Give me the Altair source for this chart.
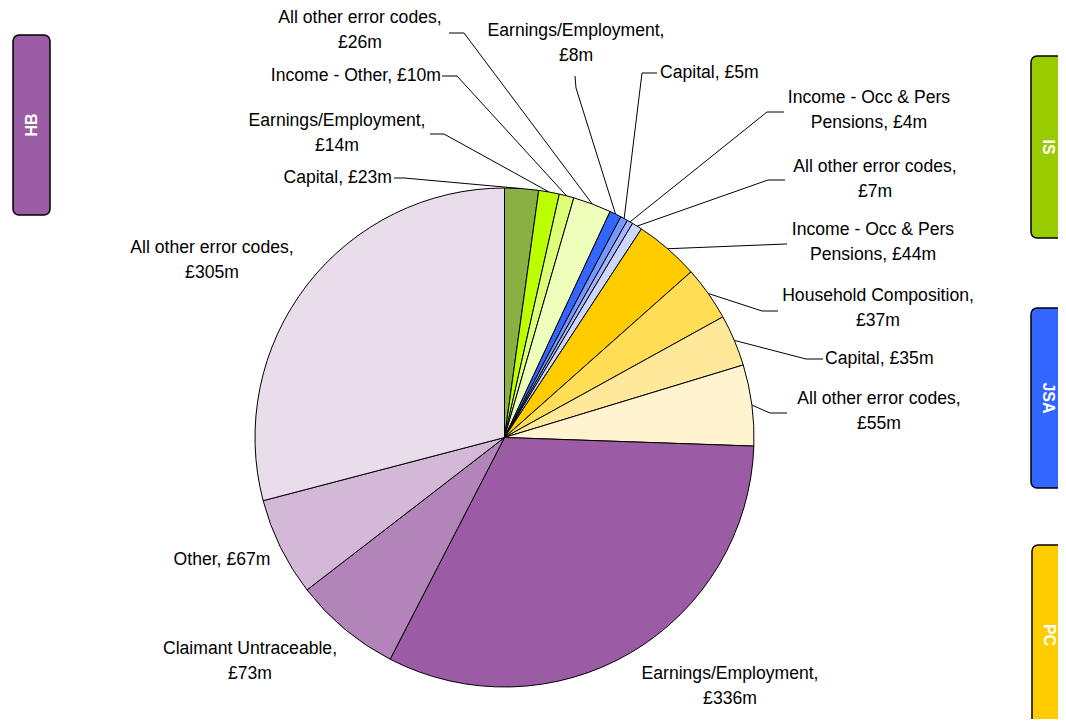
import math
import altair as alt
import pandas as pd

# ---------------- data ----------------
benefits = ["IS", "IS", "IS", "IS",
            "JSA", "JSA", "JSA", "JSA",
            "PC", "PC", "PC", "PC",
            "HB", "HB", "HB", "HB"]
categories = ["Capital", "Earnings/Employment", "Income - Other", "All other error codes",
              "Earnings/Employment", "Capital", "Income - Occ & Pers Pensions", "All other error codes",
              "Income - Occ & Pers Pensions", "Household Composition", "Capital", "All other error codes",
              "Earnings/Employment", "Claimant Untraceable", "Other", "All other error codes"]
values = [23, 14, 10, 26,
          8, 5, 4, 7,
          44, 37, 35, 55,
          336, 73, 67, 305]
label_texts = ["Capital, £23m", "Earnings/Employment,\n£14m", "Income - Other, £10m",
               "All other error codes,\n£26m",
               "Earnings/Employment,\n£8m", "Capital, £5m", "Income - Occ & Pers\nPensions, £4m",
               "All other error codes,\n£7m",
               "Income - Occ & Pers\nPensions, £44m", "Household Composition,\n£37m",
               "Capital, £35m", "All other error codes,\n£55m",
               "Earnings/Employment,\n£336m", "Claimant Untraceable,\n£73m", "Other, £67m",
               "All other error codes,\n£305m"]
box_names = ["HB", "IS", "JSA", "PC"]

# ---------------- styles ----------------
slice_colors = ["#8AB043", "#BBFF00", "#DDFF77", "#EEFFBB",
                "#3366FF", "#7799FF", "#A5B8FF", "#CCD8FF",
                "#FFCC00", "#FFDD55", "#FFE899", "#FFF4CF",
                "#9B5BA5", "#B384BA", "#D4B8D8", "#E9DDEC"]
box_colors = ["#9B5BA5", "#99CC00", "#3366FF", "#FFCC00"]

# ---------------- layout (page pixel coords) ----------------
OFF = 8
W, H = 1050, 711
CX, CY, R = 504.5 - OFF, 437.5 - OFF, 249.5

# label anchor (first line centre): (x, y, align, leader_start, elbow); leader: start -> elbow -> slice edge
label_layout = [
    (392, 178, "right", (394, 178), (404, 178)),
    (337, 121, "center", (430, 134), (444, 134)),
    (441, 76, "right", (442, 76), (457, 76)),
    (360, 18, "center", (449, 33), (464, 33)),
    (576, 31, "center", (575, 76), (576, 88)),
    (660, 73, "left", (657, 73), (642, 73)),
    (869, 98, "center", (784, 112), (767, 112)),
    (875, 167, "center", (785, 180), (768, 180)),
    (873, 230, "center", (787, 244), (786, 244)),
    (878, 296, "center", (778, 311), (762, 311)),
    (825, 359, "left", (823, 359), (806, 359)),
    (879, 399, "center", (787, 413), (770, 413)),
    (730, 674, "center", None, None),
    (250, 649, "center", None, None),
    (222, 560, "center", None, None),
    (212, 248, "center", None, None),
]
box_layout = [  # x, x2, y, y2, text x, text y, angle
    (13, 50, 35, 215, 31.5, 125, 270),
    (1031, 1080, 56, 238, 1048, 147, 90),
    (1031, 1080, 308, 488, 1048, 398, 90),
    (1032, 1080, 545, 725, 1049, 635, 90),
]

# ---------------- tables ----------------
total = sum(values)
keys = [f"{b}-{i}" for i, b in enumerate(benefits)]
pie_df = pd.DataFrame({"key": keys, "idx": range(len(values)), "benefit": benefits,
                       "category": categories, "value": values})

lab_rows, seg_rows = [], []
cum = 0
for i, v in enumerate(values):
    mid = (cum + v / 2) / total * 2 * math.pi
    cum += v
    ex = CX + R * math.sin(mid)
    ey = CY - R * math.cos(mid)
    lx, ly, al, st, el = label_layout[i]
    lab_rows.append({"x": lx - OFF, "y": ly - OFF, "align": al, "text": label_texts[i]})
    if st is not None:
        seg_rows.append({"x": st[0] - OFF, "y": st[1] - OFF, "x2": el[0] - OFF, "y2": el[1] - OFF})
        seg_rows.append({"x": el[0] - OFF, "y": el[1] - OFF, "x2": ex, "y2": ey})
lab_df = pd.DataFrame(lab_rows)
seg_df = pd.DataFrame(seg_rows)

box_df = pd.DataFrame([{"name": n, "color": c, "x": b[0] - OFF, "x2": b[1] - OFF,
                        "y": b[2] - OFF, "y2": b[3] - OFF, "tx": b[4] - OFF, "ty": b[5] - OFF,
                        "angle": b[6]} for n, c, b in zip(box_names, box_colors, box_layout)])

xs = alt.Scale(domain=[0, W], range=[0, W], nice=False, zero=False)
ys = alt.Scale(domain=[0, H], range=[0, H], nice=False, zero=False)

pie = alt.Chart(pie_df).mark_arc(outerRadius=R, stroke="black", strokeWidth=1).encode(
    theta=alt.Theta("value:Q", stack=True),
    order=alt.Order("idx:Q"),
    color=alt.Color("key:N", scale=alt.Scale(domain=keys, range=slice_colors), legend=None),
    x=alt.value(CX), y=alt.value(CY),
)

leaders = alt.Chart(seg_df).mark_rule(color="black", strokeWidth=1).encode(
    x=alt.X("x:Q", scale=xs, axis=None), y=alt.Y("y:Q", scale=ys, axis=None),
    x2="x2:Q", y2="y2:Q",
)

font = "Liberation Sans"
texts = []
for al in ["left", "center", "right"]:
    texts.append(
        alt.Chart(lab_df).transform_filter(alt.datum.align == al)
        .mark_text(align=al, baseline="middle", fontSize=17.6, font=font, color="black",
                   lineBreak="\n", lineHeight=25)
        .encode(x=alt.X("x:Q", scale=xs, axis=None), y=alt.Y("y:Q", scale=ys, axis=None),
                text="text:N")
    )

boxes = alt.Chart(box_df).mark_rect(cornerRadius=6, stroke="black", strokeWidth=1.5).encode(
    x=alt.X("x:Q", scale=xs, axis=None), x2="x2:Q",
    y=alt.Y("y:Q", scale=ys, axis=None), y2="y2:Q",
    color=alt.Color("name:N", scale=alt.Scale(domain=box_names, range=box_colors), legend=None),
)
box_texts = []
for ang in [270, 90]:
    box_texts.append(
        alt.Chart(box_df).transform_filter(alt.datum.angle == ang)
        .mark_text(angle=ang, fontSize=16, fontWeight="bold", font=font, color="white",
                   align="center", baseline="middle")
        .encode(x=alt.X("tx:Q", scale=xs, axis=None), y=alt.Y("ty:Q", scale=ys, axis=None),
                text="name:N")
    )

chart = alt.layer(leaders, pie, *texts, boxes, *box_texts).resolve_scale(
    color="independent"
).properties(
    width=W, height=H, padding=0, autosize=alt.AutoSizeParams(type="none")
).configure_view(stroke=None)

chart.save("out.html", embed_options={"renderer": "svg", "actions": False})
